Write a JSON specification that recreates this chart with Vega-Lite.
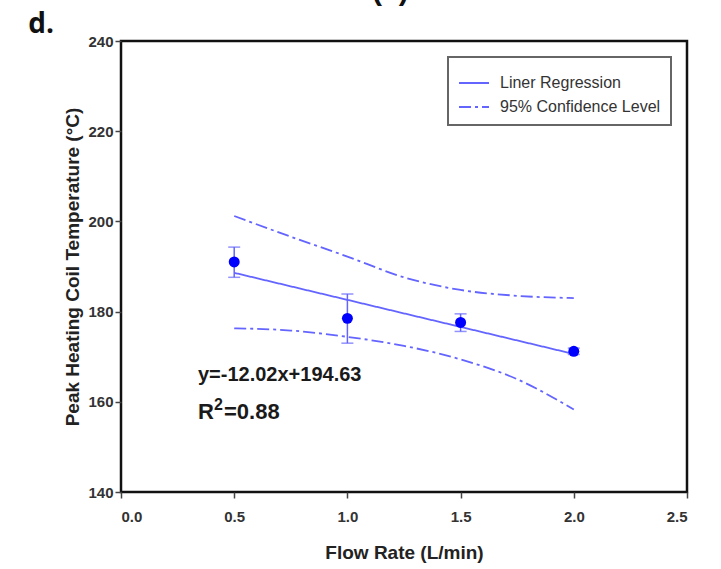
{
  "$schema": "https://vega.github.io/schema/vega-lite/v6.json",
  "width": 566,
  "height": 451,
  "autosize": {"type": "none"},
  "padding": {"left": 121, "top": 41, "right": 34, "bottom": 77},
  "background": "white",
  "datasets": {
    "lines": [
      {"flow": 0.5, "temp": 188.6, "band": "fit", "series": "Liner Regression"},
      {"flow": 2.0, "temp": 170.6, "band": "fit", "series": "Liner Regression"},
      {"flow": 0.5, "temp": 201.2, "band": "upper", "series": "95% Confidence Level"},
      {"flow": 0.75, "temp": 196.6, "band": "upper", "series": "95% Confidence Level"},
      {"flow": 1.0, "temp": 192.2, "band": "upper", "series": "95% Confidence Level"},
      {"flow": 1.25, "temp": 187.6, "band": "upper", "series": "95% Confidence Level"},
      {"flow": 1.5, "temp": 184.8, "band": "upper", "series": "95% Confidence Level"},
      {"flow": 1.75, "temp": 183.5, "band": "upper", "series": "95% Confidence Level"},
      {"flow": 2.0, "temp": 183.0, "band": "upper", "series": "95% Confidence Level"},
      {"flow": 0.5, "temp": 176.3, "band": "lower", "series": "95% Confidence Level"},
      {"flow": 0.75, "temp": 175.8, "band": "lower", "series": "95% Confidence Level"},
      {"flow": 1.0, "temp": 174.4, "band": "lower", "series": "95% Confidence Level"},
      {"flow": 1.25, "temp": 172.4, "band": "lower", "series": "95% Confidence Level"},
      {"flow": 1.5, "temp": 169.4, "band": "lower", "series": "95% Confidence Level"},
      {"flow": 1.75, "temp": 165.0, "band": "lower", "series": "95% Confidence Level"},
      {"flow": 2.0, "temp": 158.3, "band": "lower", "series": "95% Confidence Level"}
    ],
    "points": [
      {"flow": 0.5, "temp": 191.0, "lo": 187.6, "hi": 194.3},
      {"flow": 1.0, "temp": 178.5, "lo": 173.0, "hi": 183.9},
      {"flow": 1.5, "temp": 177.6, "lo": 175.6, "hi": 179.5},
      {"flow": 2.0, "temp": 171.2, "lo": 170.5, "hi": 171.9}
    ]
  },
  "layer": [
    {
      "data": {"name": "lines"},
      "mark": {"type": "line", "interpolate": "monotone", "color": "#6464ff", "strokeWidth": 1.8},
      "encoding": {
        "x": {"field": "flow", "type": "quantitative", "scale": {"domain": [0, 2.5], "nice": false, "zero": false},
              "axis": {"values": [0, 0.5, 1.0, 1.5, 2.0, 2.5], "format": ".1f", "title": "Flow Rate (L/min)", "labelPadding": 11, "titlePadding": 19}},
        "y": {"field": "temp", "type": "quantitative", "scale": {"domain": [140, 240], "nice": false, "zero": false},
              "axis": {"values": [140, 160, 180, 200, 220, 240], "title": "Peak Heating Coil Temperature (°C)", "labelPadding": 2, "titlePadding": 5}},
        "detail": {"field": "band"},
        "strokeDash": {"field": "series", "type": "nominal",
          "scale": {"domain": ["Liner Regression", "95% Confidence Level"], "range": [[1, 0], [12, 4, 3, 4]]},
          "legend": {"orient": "top-right", "offset": 16, "title": null, "symbolType": "stroke", "symbolStrokeColor": "#6464ff", "symbolStrokeWidth": 2, "symbolSize": 900, "strokeColor": "#666", "fillColor": "white", "padding": 10, "labelFont": "Liberation Sans", "labelFontSize": 16, "labelColor": "#333", "labelOffset": 10, "labelLimit": 300, "rowPadding": -4}}
      }
    },
    {
      "data": {"name": "points"},
      "mark": {"type": "rule", "color": "#6464ff", "strokeWidth": 1.5},
      "encoding": {
        "x": {"field": "flow", "type": "quantitative"},
        "y": {"field": "lo", "type": "quantitative"},
        "y2": {"field": "hi"}
      }
    },
    {
      "data": {"name": "points"},
      "mark": {"type": "tick", "orient": "horizontal", "color": "#6464ff", "size": 12, "thickness": 1.5},
      "encoding": {
        "x": {"field": "flow", "type": "quantitative"},
        "y": {"field": "lo", "type": "quantitative"}
      }
    },
    {
      "data": {"name": "points"},
      "mark": {"type": "tick", "orient": "horizontal", "color": "#6464ff", "size": 12, "thickness": 1.5},
      "encoding": {
        "x": {"field": "flow", "type": "quantitative"},
        "y": {"field": "hi", "type": "quantitative"}
      }
    },
    {
      "data": {"name": "points"},
      "mark": {"type": "point", "shape": "circle", "filled": true, "color": "#0000ff", "size": 120, "opacity": 1},
      "encoding": {
        "x": {"field": "flow", "type": "quantitative"},
        "y": {"field": "temp", "type": "quantitative"}
      }
    },
    {
      "data": {"values": [{}]},
      "mark": {"type": "text", "text": "y=-12.02x+194.63", "align": "left", "baseline": "alphabetic", "font": "Liberation Sans", "fontWeight": "bold", "fontSize": 20, "color": "#1a1a1a"},
      "encoding": {"x": {"datum": 0.34, "type": "quantitative"}, "y": {"datum": 164.6, "type": "quantitative"}}
    },
    {
      "data": {"values": [{}]},
      "mark": {"type": "text", "text": "R", "align": "left", "baseline": "alphabetic", "font": "Liberation Sans", "fontWeight": "bold", "fontSize": 22, "color": "#1a1a1a"},
      "encoding": {"x": {"datum": 0.34, "type": "quantitative"}, "y": {"datum": 156.2, "type": "quantitative"}}
    },
    {
      "data": {"values": [{}]},
      "mark": {"type": "text", "text": "2", "align": "left", "baseline": "alphabetic", "font": "Liberation Sans", "fontWeight": "bold", "fontSize": 16, "dx": 16, "dy": -9, "color": "#1a1a1a"},
      "encoding": {"x": {"datum": 0.34, "type": "quantitative"}, "y": {"datum": 156.2, "type": "quantitative"}}
    },
    {
      "data": {"values": [{}]},
      "mark": {"type": "text", "text": "=0.88", "align": "left", "baseline": "alphabetic", "font": "Liberation Sans", "fontWeight": "bold", "fontSize": 22, "dx": 26, "color": "#1a1a1a"},
      "encoding": {"x": {"datum": 0.34, "type": "quantitative"}, "y": {"datum": 156.2, "type": "quantitative"}}
    },
    {
      "data": {"values": [{}]},
      "mark": {"type": "text", "text": "d.", "align": "left", "baseline": "alphabetic", "font": "Open Sans", "fontWeight": "bold", "fontSize": 28, "color": "#111"},
      "encoding": {"x": {"datum": -0.41, "type": "quantitative"}, "y": {"datum": 241.8, "type": "quantitative"}}
    },
    {
      "data": {"values": [{}]},
      "mark": {"type": "text", "text": "(c)", "align": "center", "baseline": "alphabetic", "font": "Liberation Sans", "fontWeight": "bold", "fontSize": 30, "color": "#111"},
      "encoding": {"x": {"datum": 1.19, "type": "quantitative"}, "y": {"datum": 249.0, "type": "quantitative"}}
    }
  ],
  "config": {
    "view": {"stroke": "#111", "strokeWidth": 2.5},
    "axis": {"grid": false, "domain": false, "labelFont": "Liberation Sans", "labelFontWeight": "bold", "labelFontSize": 15, "labelColor": "#333", "tickColor": "#444", "tickSize": 6, "tickWidth": 1.5, "titleFont": "Liberation Sans", "titleFontWeight": "bold", "titleFontSize": 19, "titleColor": "#222"},
    "legend": {"strokeWidth": 2}
  }
}
